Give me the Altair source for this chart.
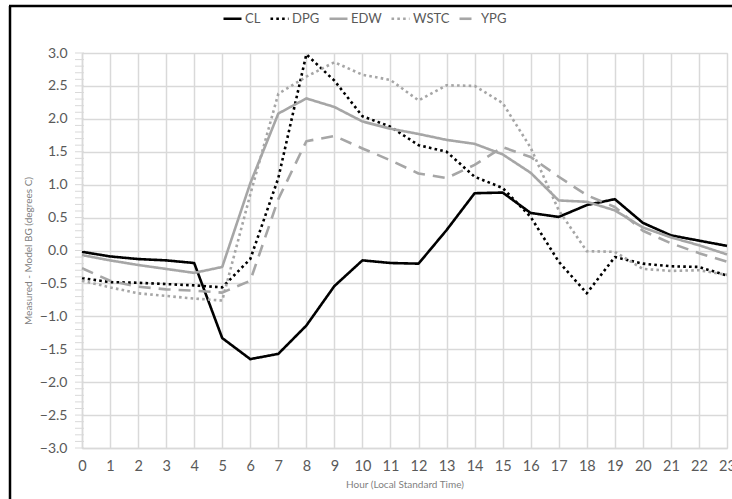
import altair as alt
import pandas as pd

hours = list(range(24))
CL = [-0.02, -0.09, -0.13, -0.15, -0.19, -1.33, -1.65, -1.57, -1.14, -0.54, -0.15, -0.19,
      -0.20, 0.31, 0.87, 0.88, 0.57, 0.51, 0.69, 0.78, 0.42, 0.23, 0.15, 0.07]
DPG = [-0.42, -0.48, -0.49, -0.51, -0.53, -0.56, -0.13, 1.10, 2.98, 2.58, 2.04, 1.88,
       1.60, 1.50, 1.12, 0.95, 0.51, -0.17, -0.65, -0.10, -0.20, -0.24, -0.25, -0.38]
EDW = [-0.07, -0.15, -0.22, -0.28, -0.34, -0.25, 1.02, 2.08, 2.31, 2.18, 1.96, 1.85,
       1.77, 1.68, 1.62, 1.46, 1.18, 0.76, 0.74, 0.61, 0.35, 0.20, 0.08, -0.06]
WSTC = [-0.46, -0.56, -0.65, -0.69, -0.73, -0.76, 0.85, 2.38, 2.64, 2.86, 2.67, 2.59,
        2.28, 2.51, 2.50, 2.24, 1.56, 0.61, -0.01, -0.02, -0.28, -0.31, -0.30, -0.37]
YPG = [-0.27, -0.46, -0.55, -0.59, -0.61, -0.64, -0.46, 0.78, 1.66, 1.74, 1.55, 1.37,
       1.17, 1.10, 1.30, 1.57, 1.42, 1.12, 0.84, 0.66, 0.30, 0.11, -0.04, -0.17]

series_names = ["CL", "DPG", "EDW", "WSTC", "YPG"]
series_values = [CL, DPG, EDW, WSTC, YPG]
series_colors = ["#000000", "#000000", "#a6a6a6", "#a6a6a6", "#a6a6a6"]
series_dash = [[1, 0], [2.6, 3.2], [1, 0], [2.6, 3.2], [12, 8]]

y_ticks = [-3.0, -2.5, -2.0, -1.5, -1.0, -0.5, 0.0, 0.5, 1.0, 1.5, 2.0, 2.5, 3.0]
minor_ticks = [round(-3 + 0.1 * i, 1) for i in range(61)]

rows = []
for name, vals in zip(series_names, series_values):
    for h, v in zip(hours, vals):
        rows.append({"hour": h, "value": v, "series": name})
df = pd.DataFrame(rows)

FONT = "Lato"

y_axis = alt.Axis(values=y_ticks, format=".1f", title="Measured - Model BG (degrees C)",
                  labelFontSize=14, labelColor="#595959", labelPadding=15, ticks=False,
                  labelOverlap=False, tickCount=13, labelFlush=False,
                  titleFontSize=10, titleColor="#7f7f7f", titleFontWeight="normal",
                  titlePadding=6, domainColor="#d9d9d9", domainWidth=1.5,
                  gridColor="#d9d9d9", gridWidth=1.5, labelFont=FONT, titleFont=FONT)
y_scale = alt.Scale(domain=[-3, 3], nice=False)

lines = alt.Chart(df).mark_line(strokeWidth=2.6, strokeCap="butt", strokeJoin="round").encode(
    x=alt.X("hour:Q", scale=alt.Scale(domain=[0, 23], nice=False),
            axis=alt.Axis(values=hours, title="Hour (Local Standard Time)", labelFontSize=14.5,
                          labelColor="#595959", labelPadding=11, ticks=False, labelOverlap=False,
                          labelFlush=False, labelBound=False,
                          titleFontSize=10, titleColor="#7f7f7f", titleFontWeight="normal",
                          titlePadding=7, domainColor="#d9d9d9", domainWidth=1.5,
                          gridColor="#d9d9d9", gridWidth=1.5, labelFont=FONT, titleFont=FONT)),
    y=alt.Y("value:Q", scale=y_scale, axis=y_axis),
    color=alt.Color("series:N", scale=alt.Scale(domain=series_names, range=series_colors),
                    legend=alt.Legend(orient="none", legendX=140, legendY=-45, direction="horizontal",
                                      title=None, symbolType="stroke", symbolSize=324,
                                      symbolStrokeWidth=2.6, labelFontSize=13, labelColor="#595959",
                                      labelFont=FONT, labelOffset=2, columnPadding=4)),
    strokeDash=alt.StrokeDash("series:N", scale=alt.Scale(domain=series_names, range=series_dash),
                              legend=None),
)

minor = alt.Chart(pd.DataFrame({"value": minor_ticks})).mark_rule(color="#d9d9d9", strokeWidth=1).encode(
    y=alt.Y("value:Q", scale=y_scale, axis=y_axis), x=alt.value(-7), x2=alt.value(2)
)

frame_left = alt.Chart(pd.DataFrame({"a": [0]})).mark_rule(color="#000000", strokeWidth=2.5).encode(
    x=alt.value(-72), y=alt.value(-47), y2=alt.value(450)
)
frame_top = alt.Chart(pd.DataFrame({"a": [0]})).mark_rule(color="#000000", strokeWidth=2.5).encode(
    x=alt.value(-73), x2=alt.value(660), y=alt.value(-47)
)

chart = alt.layer(lines, minor, frame_left, frame_top).properties(
    width=645, height=395,
    autosize=alt.AutoSizeParams(type="none"),
    padding={"left": 82, "top": 53, "right": 5, "bottom": 51},
).configure_view(stroke=None).configure(background="white")

chart.save("out.html", embed_options={"renderer": "svg", "actions": False})
